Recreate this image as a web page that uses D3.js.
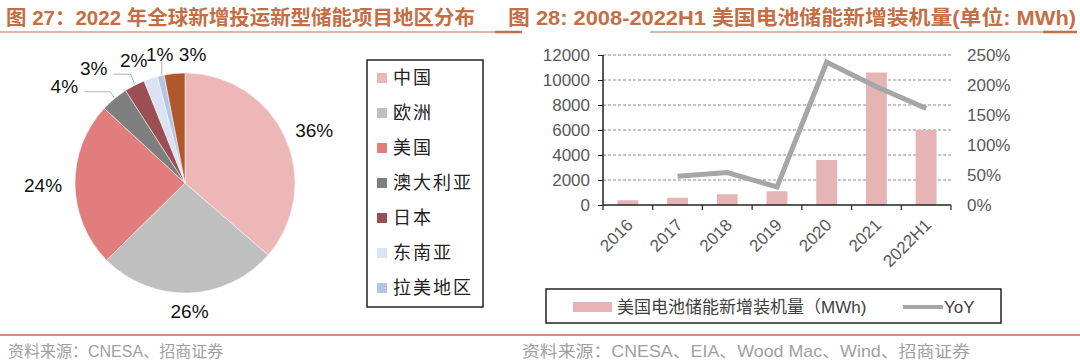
<!DOCTYPE html>
<html><head><meta charset="utf-8">
<script src="https://cdn.jsdelivr.net/npm/d3@7"></script>
<style>
html,body{margin:0;padding:0;background:#fff;}
svg{display:block;font-family:"Liberation Sans","Noto Sans CJK SC",sans-serif;}
</style></head>
<body>
<svg id="c" width="1080" height="363"></svg>
<script>
// ---- data ----
const pieNames = ["中国","欧洲","美国","澳大利亚","日本","东南亚","拉美地区","其他"];
const pieValues = [36,26,24,4,3,2,1,3];
const pieLabels = ["36%","26%","24%","4%","3%","2%","1%","3%"];
const legendNames = ["中国","欧洲","美国","澳大利亚","日本","东南亚","拉美地区"];

const years = ["2016","2017","2018","2019","2020","2021","2022H1"];
const installed = [380,580,860,1100,3600,10600,6000];
const yoy = [null,0.48,0.54,0.30,2.38,1.97,1.61];
const leftTicks = [0,2000,4000,6000,8000,10000,12000];
const rightTicks = [0,0.5,1,1.5,2,2.5];

const titleL = "图 27：2022 年全球新增投运新型储能项目地区分布";
const titleR = "图 28: 2008-2022H1 美国电池储能新增装机量(单位: MWh)";
const srcL = "资料来源：CNESA、招商证券";
const srcR = "资料来源：CNESA、EIA、Wood Mac、Wind、招商证券";
const barLegend = "美国电池储能新增装机量（MWh)";
const lineLegend = "YoY";

// ---- styles ----
const pieColors = ["#EDB6B7","#BFBFBF","#E27D7D","#7F7F7F","#9C4F52","#DAE2F3","#B4C6E7","#B1582B"];
const accent = "#C46E45";
const svg = d3.select("#c");

// titles
svg.append("text").attr("x",6).attr("y",25).attr("fill",accent)
  .attr("font-size",20).attr("font-weight","bold")
  .attr("textLength",469).attr("lengthAdjust","spacingAndGlyphs").text(titleL);
svg.append("text").attr("x",508).attr("y",25).attr("fill",accent)
  .attr("font-size",20).attr("font-weight","bold")
  .attr("textLength",568).attr("lengthAdjust","spacingAndGlyphs").text(titleR);
// title rules
svg.append("line").attr("x1",0).attr("x2",522).attr("y1",32).attr("y2",32).attr("stroke",accent).attr("stroke-width",1.2);
svg.append("line").attr("x1",495).attr("x2",522).attr("y1",32).attr("y2",32).attr("stroke",accent).attr("stroke-width",2.5);
svg.append("line").attr("x1",650).attr("x2",1077).attr("y1",32).attr("y2",32).attr("stroke",accent).attr("stroke-width",1.2);
svg.append("line").attr("x1",1043).attr("x2",1077).attr("y1",32).attr("y2",32).attr("stroke",accent).attr("stroke-width",2.5);
// footer
svg.append("line").attr("x1",0).attr("x2",1080).attr("y1",335).attr("y2",335).attr("stroke",accent).attr("stroke-width",1.5);
svg.append("text").attr("x",8).attr("y",357).attr("fill","#A0A0A0").attr("font-size",16).text(srcL);
svg.append("text").attr("x",522).attr("y",357).attr("fill","#A0A0A0").attr("font-size",16)
  .attr("textLength",448).attr("lengthAdjust","spacingAndGlyphs").text(srcR);

// ---- pie ----
const cx=185, cy=183, R=110;
const pie = d3.pie().sort(null).value(d=>d)(pieValues);
const arc = d3.arc().innerRadius(0).outerRadius(R);
const gp = svg.append("g").attr("transform",`translate(${cx},${cy})`);
gp.selectAll("path").data(pie).join("path")
  .attr("d",arc).attr("fill",(d,i)=>pieColors[i]).attr("stroke","#fff").attr("stroke-width",0.5);

// label placement (layout only)
const smallOffsets = {3:[-50,-13],4:[-41,-17],5:[-17,-18],6:[-1,-22],7:[18,-19]};
const leaderIdx = {3:true,4:true,6:true};
pie.forEach((d,i)=>{
  const a=(d.startAngle+d.endAngle)/2, s=Math.sin(a), c=-Math.cos(a);
  let lx, ly;
  if (smallOffsets[i]) {
    const ex=R*s, ey=R*c;
    lx = ex+smallOffsets[i][0]; ly = ey+smallOffsets[i][1];
    if (leaderIdx[i]) {
      let pts;
      if (i===6) pts=[[ex+1,ey-1],[ex+1,ly+8]];
      else pts=[[lx+20,ly+6],[ex-4,ly+6],[ex,ey-1]];
      gp.append("polyline").attr("points",pts.map(p=>p.join(",")).join(" "))
        .attr("fill","none").attr("stroke","#A5B5C8").attr("stroke-width",1);
    }
  } else {
    lx = (R+10)*s + 22*s;
    ly = (R+18)*c;
  }
  gp.append("text").attr("x",lx).attr("y",ly).attr("dy","0.36em")
    .attr("text-anchor","middle").attr("font-size",19).attr("fill","#111").text(pieLabels[i]);
});

// left legend
svg.append("rect").attr("x",367).attr("y",60).attr("width",116).attr("height",247)
  .attr("fill","#fff").attr("stroke","#222").attr("stroke-width",1.5);
legendNames.forEach((n,i)=>{
  const y=78+i*35;
  svg.append("rect").attr("x",377).attr("y",y-5).attr("width",10).attr("height",10).attr("fill",pieColors[i]);
  svg.append("text").attr("x",393).attr("y",y).attr("dy","0.36em").attr("font-size",18)
    .attr("fill","#222").attr("letter-spacing",2).attr("font-family","'Noto Sans CJK SC'").text(n);
});

// ---- combo chart ----
const x0=603, x1=951, yTop=55, yBot=205;
const x = d3.scaleBand().domain(years).range([x0,x1]).paddingInner(0.58).paddingOuter(0.29);
const xb = d3.scaleBand().domain(years).range([x0,x1]);
const yL = d3.scaleLinear().domain([0,12000]).range([yBot,yTop]);
const yR = d3.scaleLinear().domain([0,2.5]).range([yBot,yTop]);

// grid
svg.append("g").selectAll("line").data(leftTicks.slice(1)).join("line")
  .attr("x1",x0).attr("x2",x1).attr("y1",d=>yL(d)).attr("y2",d=>yL(d))
  .attr("stroke","#8C8C8C").attr("stroke-width",1).attr("stroke-dasharray","3,2");

// bars
svg.append("g").selectAll("rect").data(installed).join("rect")
  .attr("x",(d,i)=>x(years[i])).attr("width",x.bandwidth())
  .attr("y",d=>yL(d)).attr("height",d=>yBot-yL(d)).attr("fill","#E6B4B5");

// left axis
const axL = svg.append("g").attr("transform",`translate(${x0},0)`)
  .call(d3.axisLeft(yL).tickValues(leftTicks).tickSize(5).tickPadding(8).tickFormat(d3.format("d")));
axL.select(".domain").attr("stroke","#222").attr("stroke-width",1.5).attr("d",`M0,${yTop}V${yBot}`);
axL.selectAll(".tick line").attr("stroke","#222");
axL.selectAll("text").attr("font-size",17).attr("fill","#595959").attr("font-family","'Liberation Sans'");

// right axis
const axR = svg.append("g").attr("transform",`translate(${x1},0)`)
  .call(d3.axisRight(yR).tickValues(rightTicks).tickSize(0).tickPadding(16).tickFormat(d3.format(".0%")));
axR.select(".domain").remove();
axR.selectAll("text").attr("font-size",17).attr("fill","#595959").attr("font-family","'Liberation Sans'");

// bottom axis
const axB = svg.append("g").attr("transform",`translate(0,${yBot})`);
axB.append("line").attr("x1",x0).attr("x2",x1).attr("stroke","#222").attr("stroke-width",1.5);
axB.selectAll(".tk").data(years.concat(["end"])).join("line").attr("class","tk")
  .attr("x1",(d,i)=>i<years.length?xb(d):x1).attr("x2",(d,i)=>i<years.length?xb(d):x1)
  .attr("y1",0).attr("y2",5).attr("stroke","#222").attr("stroke-width",1.2);
axB.selectAll(".lb").data(years).join("text").attr("class","lb")
  .attr("transform",d=>`translate(${xb(d)+xb.bandwidth()/2+6},${21}) rotate(-45)`)
  .attr("text-anchor","end").attr("font-size",17).attr("fill","#595959").text(d=>d);

// line
const line = d3.line().defined(d=>d!=null)
  .x((d,i)=>x(years[i])+x.bandwidth()/2).y(d=>yR(d));
svg.append("path").datum(yoy).attr("d",line).attr("fill","none")
  .attr("stroke","#A6A6A6").attr("stroke-width",5).attr("stroke-linejoin","miter");

// right legend
svg.append("rect").attr("x",546).attr("y",289).attr("width",455).attr("height",34)
  .attr("fill","#fff").attr("stroke","#222").attr("stroke-width",1.5);
svg.append("rect").attr("x",573).attr("y",302).attr("width",39).attr("height",10).attr("fill","#E6B4B5");
svg.append("text").attr("x",617).attr("y",307).attr("dy","0.36em").attr("font-size",17).attr("fill","#404040").text(barLegend);
svg.append("line").attr("x1",903).attr("x2",943).attr("y1",307).attr("y2",307).attr("stroke","#A6A6A6").attr("stroke-width",4);
svg.append("text").attr("x",944).attr("y",307).attr("dy","0.36em").attr("font-size",17).attr("fill","#404040").text(lineLegend);
</script>
</body></html>
